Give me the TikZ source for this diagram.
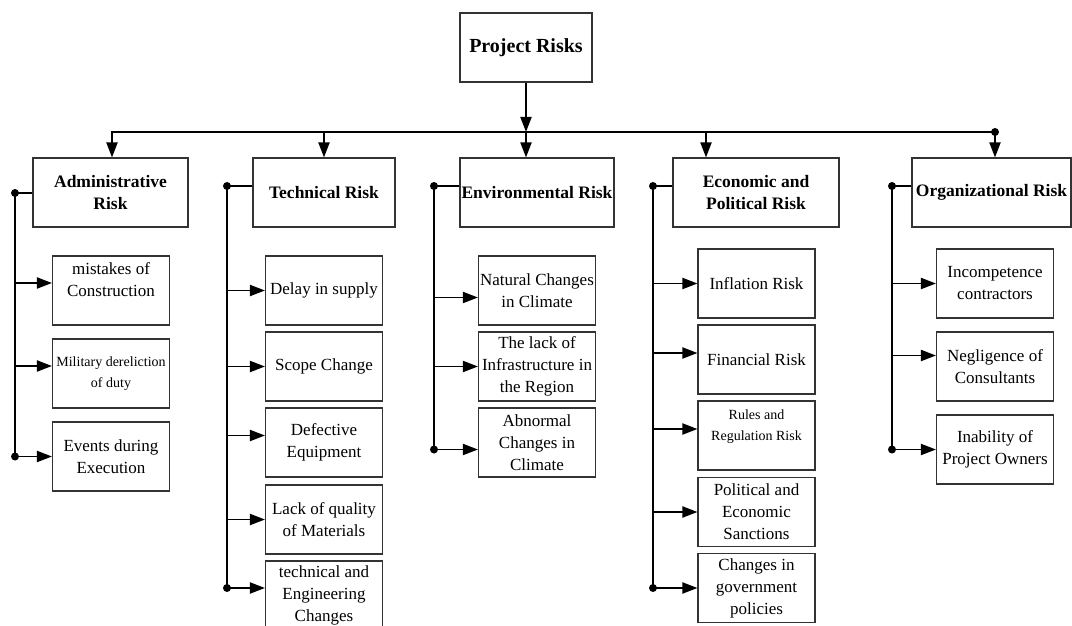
\documentclass[tikz,border=0pt]{standalone}
\usepackage{fontspec}
\setmainfont{Liberation Serif}
\usetikzlibrary{arrows.meta}
\begin{document}
\begin{tikzpicture}[x=1pt,y=-1pt,
	rootbox/.style={draw=black!80,line width=1.1pt,minimum width=132pt,minimum height=69pt,inner sep=1pt,font=\fontsize{20}{24}\selectfont\bfseries},
	riskbox/.style={draw=black!80,line width=1.1pt,minimum height=69pt,align=center,inner sep=1pt,font=\fontsize{17.5}{22}\selectfont\bfseries},
	itembox/.style={draw=black!80,line width=1.1pt,minimum width=117pt,minimum height=69pt,align=center,inner sep=1pt,font=\fontsize{17}{22}\selectfont},
	smallbox/.style={itembox,font=\fontsize{14}{20.5}\selectfont},
	wire/.style={line width=1.9pt},
	link/.style={line width=1.9pt,-{Triangle[length=15pt,width=11pt]}},
	joint/.style={circle,fill,inner sep=0pt,minimum size=8pt}]
	\useasboundingbox (0,0) rectangle (1072,626);
	% top level
	\node[rootbox] (root) at (526,47.5) {Project Risks};
	\node[riskbox,minimum width=155pt] (adm) at (110.5,192.5) {Administrative\\Risk};
	\node[riskbox,minimum width=142pt] (tec) at (324,192.5) {Technical Risk};
	\node[riskbox,minimum width=154pt] (env) at (537,192.5) {Environmental Risk};
	\node[riskbox,minimum width=166pt] (eco) at (756,192.5) {Economic and\\Political Risk};
	\node[riskbox,minimum width=159pt] (org) at (991.5,192.5) {Organizational Risk};
	% administrative
	\node[itembox] (a1) at (111,290.5) {mistakes of\\Construction\\\mbox{}};
	\node[smallbox] (a2) at (111,373.5) {Military dereliction\\of duty};
	\node[itembox] (a3) at (111,456.5) {Events during\\Execution};
	% technical
	\node[itembox] (t1) at (324,290.5) {Delay in supply};
	\node[itembox] (t2) at (324,366.5) {Scope Change};
	\node[itembox] (t3) at (324,442.5) {Defective\\Equipment};
	\node[itembox] (t4) at (324,519.5) {Lack of quality\\of Materials};
	\node[itembox] (t5) at (324,595.5) {technical and\\Engineering\\Changes};
	% environmental
	\node[itembox] (e1) at (537,290.5) {Natural Changes\\in Climate};
	\node[itembox] (e2) at (537,366.5) {The lack of\\Infrastructure in\\the Region};
	\node[itembox] (e3) at (537,442.5) {Abnormal\\Changes in\\Climate};
	% economic and political
	\node[itembox] (c1) at (756.5,283.5) {Inflation Risk};
	\node[itembox] (c2) at (756.5,359.5) {Financial Risk};
	\node[smallbox] (c3) at (756.5,435.5) {Rules and\\Regulation Risk\\\mbox{}};
	\node[itembox] (c4) at (756.5,512) {Political and\\Economic\\Sanctions};
	\node[itembox] (c5) at (756.5,588) {Changes in\\government\\policies};
	% organizational
	\node[itembox] (o1) at (995,283.5) {Incompetence\\contractors};
	\node[itembox] (o2) at (995,366.5) {Negligence of\\Consultants};
	\node[itembox] (o3) at (995,449.5) {Inability of\\Project Owners};
	% bus
	\coordinate (busL) at (112,132);
	\coordinate (busM) at (526,132);
	\coordinate (busE) at (706,132);
	\coordinate (busR) at (995,132);
	\draw[link] (root) -- (busM);
	\draw[link] (busR) -- (busL) -- (busL |- adm.north);
	\draw[link] (tec.north |- busL) -- (tec.north);
	\draw[link] (busM) -- (busM |- env.north);
	\draw[link] (busE) -- (busE |- eco.north);
	\draw[link] (busR) -- (busR |- org.north);
	\node[joint] (jR) at (busR) {};
	% side lines
	\coordinate (admS) at (15,193);
	\coordinate (tecS) at (227,186);
	\coordinate (envS) at (434,186);
	\coordinate (ecoS) at (653,186);
	\coordinate (orgS) at (892,186);
	\coordinate (a1p) at ([yshift=7.5pt]a1.west);
	\coordinate (a2p) at ([yshift=7.5pt]a2.west);
	\coordinate (t3p) at ([yshift=7pt]t3.west);
	\coordinate (t5p) at ([yshift=7.5pt]t5.west);
	\coordinate (e1p) at ([yshift=-7pt]e1.west);
	\coordinate (e3p) at ([yshift=-7pt]e3.west);
	\coordinate (c2p) at ([yshift=6.5pt]c2.west);
	\coordinate (c3p) at ([yshift=6.5pt]c3.west);
	\coordinate (o2p) at ([yshift=11pt]o2.west);
	\draw[wire] (adm.west |- admS) -- (admS) -- (admS |- a3.west);
	\draw[wire] (tec.west |- tecS) -- (tecS) -- (tecS |- t5p);
	\draw[wire] (env.west |- envS) -- (envS) -- (envS |- e3p);
	\draw[wire] (eco.west |- ecoS) -- (ecoS) -- (ecoS |- c5.west);
	\draw[wire] (org.west |- orgS) -- (orgS) -- (orgS |- o3.west);
	% arrows to items
	\draw[link] (a1p -| admS) -- (a1p);
	\draw[link] (a2p -| admS) -- (a2p);
	\draw[link] (a3.west -| admS) -- (a3.west);
	\draw[link] (t1.west -| tecS) -- (t1.west);
	\draw[link] (t2.west -| tecS) -- (t2.west);
	\draw[link] (t3p -| tecS) -- (t3p);
	\draw[link] (t4.west -| tecS) -- (t4.west);
	\draw[link] (t5p -| tecS) -- (t5p);
	\draw[link] (e1p -| envS) -- (e1p);
	\draw[link] (e2.west -| envS) -- (e2.west);
	\draw[link] (e3p -| envS) -- (e3p);
	\draw[link] (c1.west -| ecoS) -- (c1.west);
	\draw[link] (c2p -| ecoS) -- (c2p);
	\draw[link] (c3p -| ecoS) -- (c3p);
	\draw[link] (c4.west -| ecoS) -- (c4.west);
	\draw[link] (c5.west -| ecoS) -- (c5.west);
	\draw[link] (o1.west -| orgS) -- (o1.west);
	\draw[link] (o2p -| orgS) -- (o2p);
	\draw[link] (o3.west -| orgS) -- (o3.west);
	% dots
	\node[joint] (jA1) at (admS) {};
	\node[joint] (jA2) at (a3.west -| admS) {};
	\node[joint] (jT1) at (tecS) {};
	\node[joint] (jT2) at (t5p -| tecS) {};
	\node[joint] (jE1) at (envS) {};
	\node[joint] (jE2) at (e3p -| envS) {};
	\node[joint] (jC1) at (ecoS) {};
	\node[joint] (jC2) at (c5.west -| ecoS) {};
	\node[joint] (jO1) at (orgS) {};
	\node[joint] (jO2) at (o3.west -| orgS) {};
\end{tikzpicture}
\end{document}
